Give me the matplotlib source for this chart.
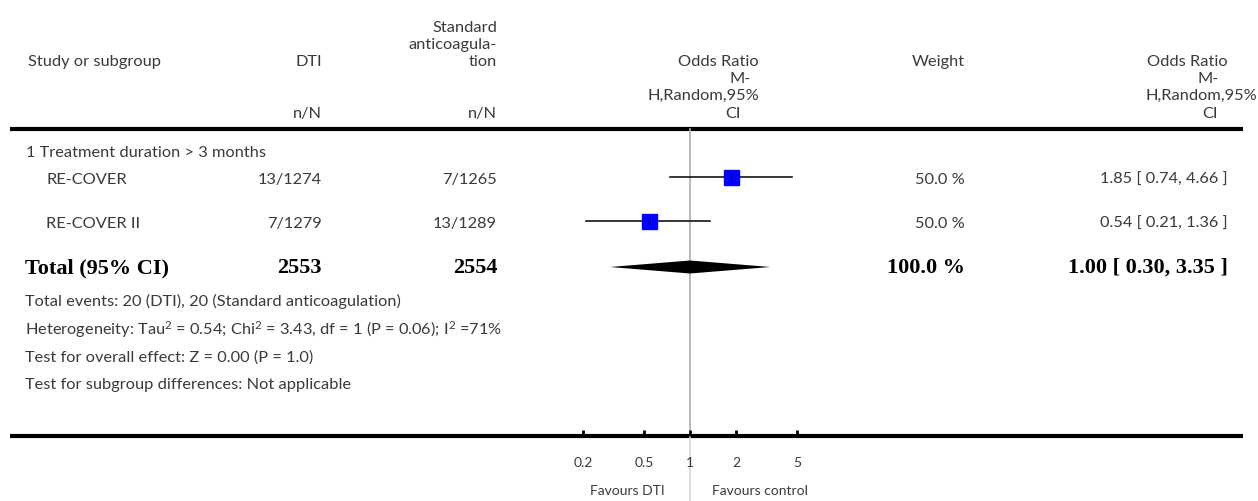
import numpy as np
import matplotlib.pyplot as plt

plt.rcParams['font.family'] = ['Lato', 'DejaVu Sans']
plt.rcParams['mathtext.fontset'] = 'custom'
plt.rcParams['mathtext.rm'] = 'Lato'
plt.rcParams['mathtext.it'] = 'Lato'

# data
studies = ['RE-COVER', 'RE-COVER II']
dti_n = [13, 7]
dti_N = [1274, 1279]
std_n = [7, 13]
std_N = [1265, 1289]
odds = [1.85, 0.54]
ci_lo = [0.74, 0.21]
ci_hi = [4.66, 1.36]
weight = [50.0, 50.0]

tot_dti = 2553
tot_std = 2554
tot_or = 1.00
tot_lo = 0.30
tot_hi = 3.35
tot_w = 100.0

ticks = [0.2, 0.5, 1, 2, 5]
tick_labels = ['0.2', '0.5', '1', '2', '5']

W, H = 1258, 502
fig = plt.figure(figsize=(W / 100, H / 100), dpi=100)
ax = fig.add_axes([0, 0, 1, 1])
ax.set_xlim(0, W)
ax.set_ylim(H, 0)
ax.axis('off')

# forest part: log scale, 1 sits at x=690 px
fa = fig.add_axes([537 / W, 0, (843 - 537) / W, 1])
fa.set_xscale('log')
fa.set_xlim(0.1, 10)
fa.set_ylim(H, 0)
fa.axis('off')

txt = '#3a3a3a'
fs = 11.8
bfs = 16
serif = 'Liberation Serif'

# header
ax.text(28, 62, 'Study or subgroup', fontsize=fs, color=txt, va='center')
ax.text(322, 62, 'DTI', fontsize=fs, color=txt, va='center', ha='right')
ax.text(497, 28, 'Standard', fontsize=fs, color=txt, va='center', ha='right')
ax.text(497, 45, 'anticoagula-', fontsize=fs, color=txt, va='center', ha='right')
ax.text(497, 62, 'tion', fontsize=fs, color=txt, va='center', ha='right')
ax.text(322, 114, 'n/N', fontsize=fs, color=txt, va='center', ha='right')
ax.text(497, 114, 'n/N', fontsize=fs, color=txt, va='center', ha='right')
for xr, xm, xh, xc in [(759, 751, 759, 741), (1228, 1219, 1257, 1218)]:
    ax.text(xr, 62, 'Odds Ratio', fontsize=fs, color=txt, va='center', ha='right')
    ax.text(xm, 79, 'M-', fontsize=fs, color=txt, va='center', ha='right')
    ax.text(xh, 96, 'H,Random,95%', fontsize=fs, color=txt, va='center', ha='right')
    ax.text(xc, 114, 'CI', fontsize=fs, color=txt, va='center', ha='right')
ax.text(965, 62, 'Weight', fontsize=fs, color=txt, va='center', ha='right')

ax.plot([10, 1243], [130, 130], color='black', lw=3, solid_capstyle='butt')

ax.text(26, 153, '1 Treatment duration > 3 months', fontsize=fs, color=txt, va='center')

rows_y = [180, 224]
for i, y in enumerate(rows_y):
    ax.text(46, y, studies[i], fontsize=fs, color=txt, va='center')
    ax.text(322, y, f'{dti_n[i]}/{dti_N[i]}', fontsize=fs, color=txt, va='center', ha='right')
    ax.text(497, y, f'{std_n[i]}/{std_N[i]}', fontsize=fs, color=txt, va='center', ha='right')
    ax.text(965, y, f'{weight[i]:.1f} %', fontsize=fs, color=txt, va='center', ha='right')
    ax.text(1228, y, f'{odds[i]:.2f} [ {ci_lo[i]:.2f}, {ci_hi[i]:.2f} ]',
            fontsize=fs, color=txt, va='center', ha='right')
    fa.plot([ci_lo[i], ci_hi[i]], [y - 2, y - 2], color='black', lw=1.1, zorder=3)
    fa.plot(odds[i], y - 2, 's', ms=10.8, color='#0000ff', mec='#0000ff', zorder=4)
    fa.plot(odds[i], y - 2, '|', ms=5, color='black', mew=1, zorder=5)

ty = 268
ax.text(25, ty, 'Total (95% CI)', fontsize=bfs, family=serif, weight='bold', va='center')
ax.text(322, ty, str(tot_dti), fontsize=bfs, family=serif, weight='bold', va='center', ha='right')
ax.text(497, ty, str(tot_std), fontsize=bfs, family=serif, weight='bold', va='center', ha='right')
ax.text(965, ty, f'{tot_w:.1f} %', fontsize=bfs, family=serif, weight='bold', va='center', ha='right')
ax.text(1228, ty, f'{tot_or:.2f} [ {tot_lo:.2f}, {tot_hi:.2f} ]', fontsize=bfs, family=serif,
        weight='bold', va='center', ha='right')
fa.fill([tot_lo, tot_or, tot_hi, tot_or], [ty, ty - 6.5, ty, ty + 6.5], color='black', lw=0, zorder=4)

notes = [
    'Total events: 20 (DTI), 20 (Standard anticoagulation)',
    r'Heterogeneity: Tau$^2$ = 0.54; Chi$^2$ = 3.43, df = 1 (P = 0.06); I$^2$ =71%',
    'Test for overall effect: Z = 0.00 (P = 1.0)',
    'Test for subgroup differences: Not applicable',
]
for s, y in zip(notes, [301, 330, 358, 385]):
    ax.text(25, y, s, fontsize=fs, color=txt, va='center')

# bottom axis
by = 437
ax.plot([10, 1243], [by, by], color='black', lw=3, solid_capstyle='butt')
fa.plot([1, 1], [130, by], color='#b0b0b0', lw=1.2, zorder=2)
fa.plot([1, 1], [by, H], color='#d8d8d8', lw=1.2, zorder=2)
for t, lab in zip(ticks, tick_labels):
    fa.plot([t, t], [by, by - 6], color='black', lw=2, solid_capstyle='butt')
    fa.text(t, 463, lab, fontsize=10, color=txt, ha='center', va='center')
fa.text(0.686, 491, 'Favours DTI', fontsize=10, color=txt, ha='right', va='center')
fa.text(1.39, 491, 'Favours control', fontsize=10, color=txt, ha='left', va='center')

fig.savefig('out.png', dpi=100)
